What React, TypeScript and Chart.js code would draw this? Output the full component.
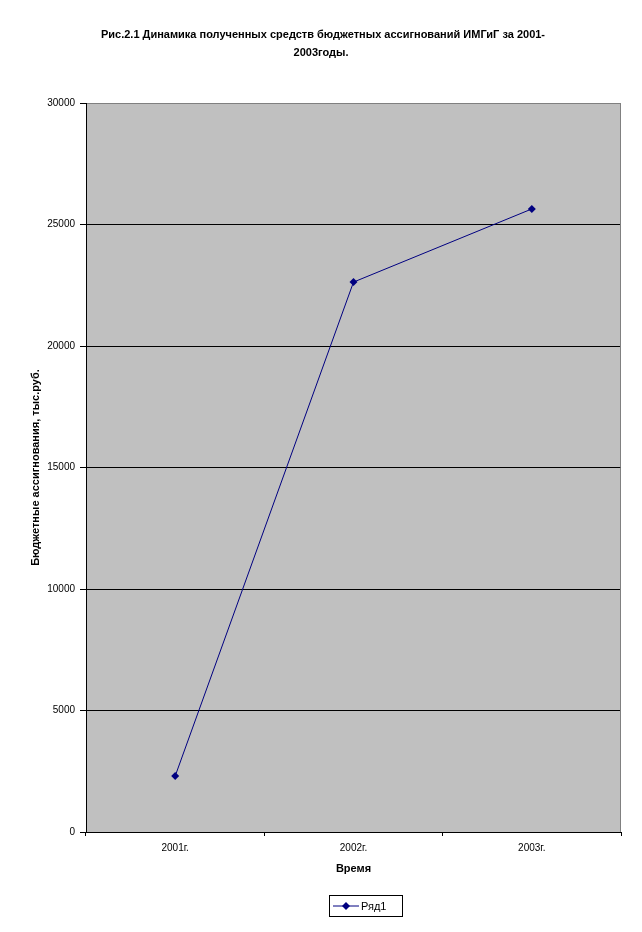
import React, { useEffect, useRef } from "react";
import { Chart, registerables } from "chart.js";

Chart.register(...registerables);

const categories = ["2001г.", "2002г.", "2003г."];
const seriesName = "Ряд1";
const seriesValues = [2300, 22630, 25640];
const titleLines = ["Рис.2.1 Динамика полученных средств бюджетных ассигнований ИМГиГ за 2001-", "2003годы."];
const yTitle = "Бюджетные ассигнования, тыс.руб.";
const xTitle = "Время";

const FONT = "'Liberation Sans', Arial, sans-serif";

export default function App() {
  const ref = useRef<HTMLCanvasElement>(null);
  useEffect(() => {
    const canvas = ref.current!;
    const bgPlugin = {
      id: "bg",
      beforeDraw(chart: any) {
        const { ctx, chartArea: a } = chart;
        ctx.save();
        ctx.fillStyle = "#ffffff";
        ctx.fillRect(0, 0, chart.width, chart.height);
        ctx.fillStyle = "#c0c0c0";
        ctx.fillRect(a.left, a.top, a.right - a.left, a.bottom - a.top);
        ctx.restore();
      },
      afterDatasetsDraw(chart: any) {
        const { ctx, chartArea: a } = chart;
        ctx.save();
        ctx.strokeStyle = "#808080";
        ctx.lineWidth = 1;
        ctx.beginPath();
        ctx.moveTo(Math.round(a.right) - 0.5, a.top);
        ctx.lineTo(Math.round(a.right) - 0.5, a.bottom);
        ctx.stroke();
        ctx.restore();
      },
      afterDraw(chart: any) {
        const { ctx } = chart;
        ctx.save();
        // title
        ctx.fillStyle = "#000";
        ctx.font = `bold 11px ${FONT}`;
        ctx.textAlign = "center";
        ctx.textBaseline = "middle";
        ctx.fillText(titleLines[0], 323, 35);
        ctx.fillText(titleLines[1], 321, 53);
        // legend
        const bx = 329.5, by = 895.5, bw = 73, bh = 21;
        ctx.strokeStyle = "#000";
        ctx.lineWidth = 1;
        ctx.strokeRect(bx, by, bw, bh);
        const cy = by + bh / 2;
        ctx.strokeStyle = "#000080";
        ctx.beginPath();
        ctx.moveTo(333, cy);
        ctx.lineTo(359, cy);
        ctx.stroke();
        ctx.fillStyle = "#000080";
        ctx.beginPath();
        ctx.moveTo(346, cy - 4);
        ctx.lineTo(350, cy);
        ctx.lineTo(346, cy + 4);
        ctx.lineTo(342, cy);
        ctx.closePath();
        ctx.fill();
        ctx.fillStyle = "#000";
        ctx.font = `11px ${FONT}`;
        ctx.textAlign = "left";
        ctx.fillText(seriesName, 361, cy + 0.5);
        ctx.restore();
      },
    };
    const chart = new Chart(canvas, {
      type: "line",
      data: {
        labels: categories,
        datasets: [
          {
            label: seriesName,
            data: seriesValues,
            borderColor: "#000080",
            backgroundColor: "#000080",
            borderWidth: 1,
            pointStyle: "rectRot",
            pointRadius: 4,
            pointBorderWidth: 0,
            tension: 0,
          },
        ],
      },
      options: {
        responsive: false,
        animation: false,
        devicePixelRatio: 1,
        layout: { padding: { top: 103, left: 0, right: 21, bottom: 50 } },
        plugins: {
          legend: { display: false },
          title: { display: false },
          tooltip: { enabled: false },
        },
        scales: {
          x: {
            type: "category",
            offset: true,
            afterFit: (s: any) => {
              s.height = 50;
            },
            grid: {
              offset: true,
              drawOnChartArea: false,
              drawTicks: true,
              tickLength: 4,
              tickColor: "#000",
              color: "#000",
            },
            border: { display: true, color: "#000", width: 1 },
            ticks: {
              color: "#000",
              padding: 6,
              font: { family: FONT, size: 10 },
              maxRotation: 0,
            },
            title: {
              display: true,
              text: xTitle,
              color: "#000",
              font: { family: FONT, size: 11, weight: "bold" },
              padding: { top: 0, bottom: 6 },
            },
          },
          y: {
            min: 0,
            max: 30000,
            afterFit: (s: any) => {
              s.width = 86;
            },
            ticks: {
              stepSize: 5000,
              color: "#000",
              padding: 5,
              font: { family: FONT, size: 10 },
              callback: (v: any) => String(v),
            },
            grid: {
              color: (c: any) => (c.tick && c.tick.value === 30000 ? "#808080" : c.tick && c.tick.value === 0 ? "rgba(0,0,0,0)" : "#000"),
              tickColor: "#000",
              tickLength: 6,
              lineWidth: 1,
            },
            border: { display: true, color: "#000", width: 1 },
            title: {
              display: true,
              text: yTitle,
              color: "#000",
              font: { family: FONT, size: 11, weight: "bold" },
              padding: { top: 29, bottom: 0 },
            },
          },
        },
      },
      plugins: [bgPlugin],
    } as any);
    return () => chart.destroy();
  }, []);
  return (
    <div style={{ position: "fixed", left: 0, top: 0, width: 642, height: 932, background: "#fff" }}>
      <canvas ref={ref} width={642} height={932} style={{ display: "block" }} />
    </div>
  );
}
